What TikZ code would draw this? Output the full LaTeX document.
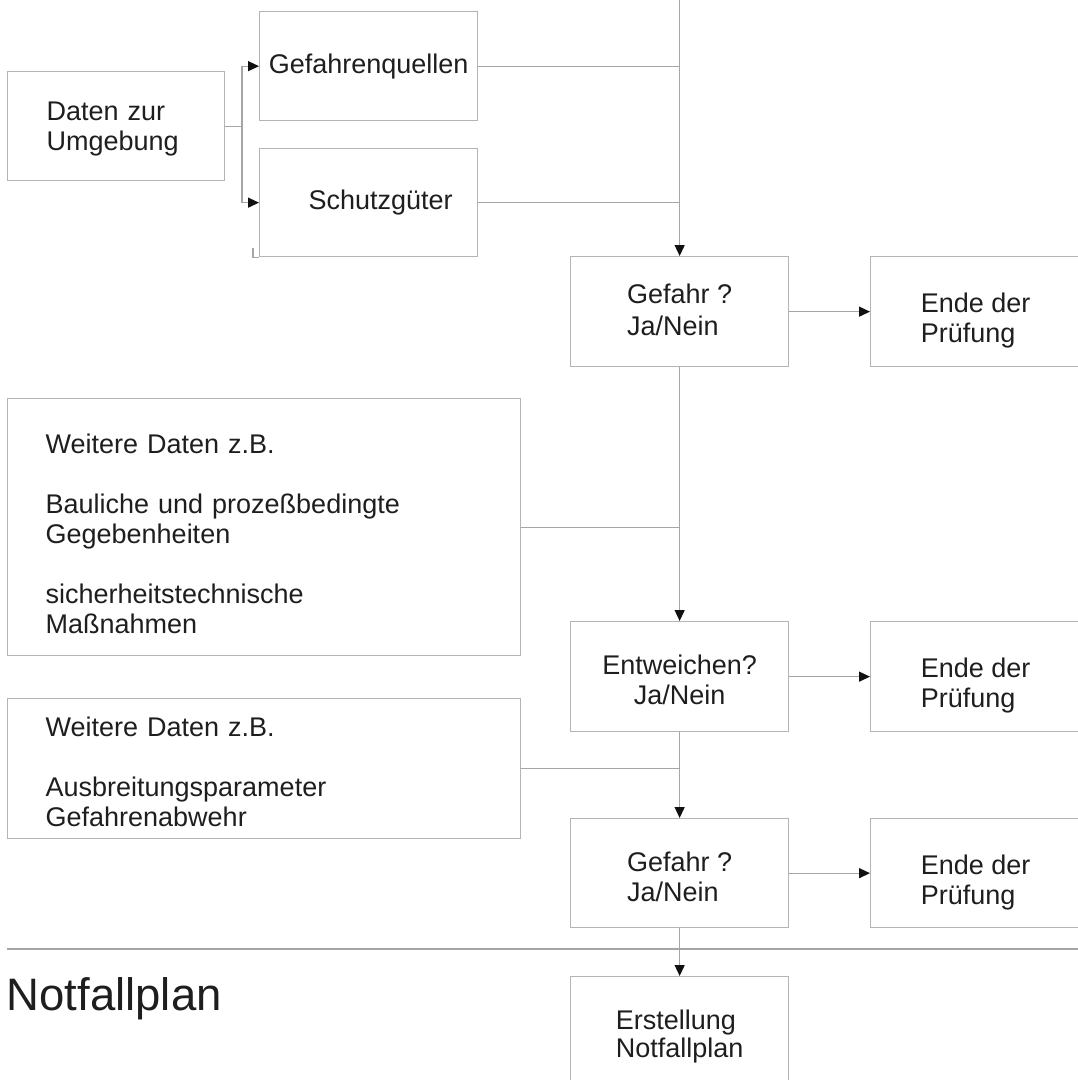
\documentclass[tikz,border=0pt]{standalone}
\usepackage{fontspec}
\setmainfont{Liberation Sans}
\usetikzlibrary{arrows.meta}
\definecolor{boxline}{HTML}{B4B4B4}
\definecolor{conline}{HTML}{A6A6A6}
\definecolor{txt}{HTML}{1E1E1E}
\definecolor{tipc}{HTML}{111111}
% invisible strut that makes the first line taller (moves the text block down)
\newcommand\tdn[1]{\rule{0pt}{#1}}
% invisible strut that makes the last line deeper (moves the text block up)
\newcommand\tup[1]{\rule[-#1]{0pt}{0pt}}
\begin{document}
\begin{tikzpicture}[x=1pt,y=-1pt,
  every node/.style={font=\fontsize{27}{30}\selectfont, text=txt},
  box/.style={draw=boxline, line width=1.3pt, inner ysep=0pt, anchor=north west},
  conn/.style={draw=conline, line width=1.3pt},
  arr/.style={conn, -{Triangle[length=11pt,width=10pt,color=tipc]}},
]
\useasboundingbox (0,0) rectangle (1078,1080);
\clip (0,0) rectangle (1078,1080);

% upper part
\node[box, text width=139pt, inner xsep=39pt, minimum height=109pt, align=left] (daten) at (7,71) {\tdn{24.7pt}Daten zur\\Umgebung};
\node[box, minimum width=218pt, minimum height=109pt, inner xsep=0pt] (gq) at (259,11) {Gefahrenquellen};
\node[box, minimum width=218pt, minimum height=108pt, inner xsep=0pt] (sg) at (259,148) {\hspace*{24pt}Schutzgüter};

\node[box, minimum width=218pt, minimum height=110pt, align=left, font=\fontsize{27}{32}\selectfont] (g1) at (570,256) {Gefahr ?\\Ja/Nein\tup{4.4pt}};
\node[box, minimum width=210pt, minimum height=110pt, align=left] (e1) at (870,256) {\tdn{37.3pt}Ende der\\Prüfung};

\node[box, text width=437pt, inner xsep=38pt, minimum height=257pt, align=left] (w1) at (7,398) {\tdn{32.3pt}Weitere Daten z.B.\\[30pt]Bauliche und prozeßbedingte\\Gegebenheiten\\[30pt]sicherheitstechnische\\Maßnahmen};

\node[box, minimum width=218pt, minimum height=110pt, align=center] (ent) at (570,621) {\tdn{26.9pt}Entweichen?\\Ja/Nein};
\node[box, minimum width=210pt, minimum height=110pt, align=left] (e2) at (870,621) {\tdn{37.3pt}Ende der\\Prüfung};

\node[box, text width=437pt, inner xsep=38pt, minimum height=140pt, align=left] (w2) at (7,698) {\tdn{26.1pt}Weitere Daten z.B.\\[30pt]Ausbreitungsparameter\\Gefahrenabwehr};

\node[box, minimum width=218pt, minimum height=109pt, align=left] (g2) at (570,818) {\tdn{26.9pt}Gefahr ?\\Ja/Nein};
\node[box, minimum width=210pt, minimum height=109pt, align=left] (e3) at (870,818) {\tdn{37.3pt}Ende der\\Prüfung};

\node[box, minimum width=218pt, minimum height=120pt, align=left, font=\fontsize{27}{28.5}\selectfont] (ers) at (570,976) {Erstellung\\Notfallplan};

\node[anchor=base west, inner sep=0pt, font=\fontsize{45.5}{50}\selectfont] (nfp) at (6.5,1010) {Notfallplan};

% coordinates
\coordinate (br) at (242,0 |- daten.east);
\coordinate (top) at (g1.north |- 0,0);
\coordinate (hk) at (253,248);
\coordinate (sepl) at (7,949);
\coordinate (sepr) at (1078,949);

% connectors
\draw[conn] (daten.east) -- (br);
\draw[arr] (br) |- (gq.west);
\draw[arr] (br) |- (sg.west);
\draw[conn] (hk) |- (sg.south west);
\draw[conn] (gq.east) -- (gq.east -| top);
\draw[conn] (sg.east) -- (sg.east -| top);
\draw[arr] (top) -- (g1.north);
\draw[arr] (g1.east) -- (e1.west);
\draw[arr] (g1.south) -- (ent.north);
\draw[conn] (w1.east) -- (w1.east -| g1.south);
\draw[arr] (ent.east) -- (e2.west);
\draw[arr] (ent.south) -- (g2.north);
\draw[conn] (w2.east) -- (w2.east -| ent.south);
\draw[arr] (g2.east) -- (e3.west);
\draw[conn] (sepl) -- (sepr);
\draw[arr] (g2.south) -- (ers.north);
\end{tikzpicture}
\end{document}
